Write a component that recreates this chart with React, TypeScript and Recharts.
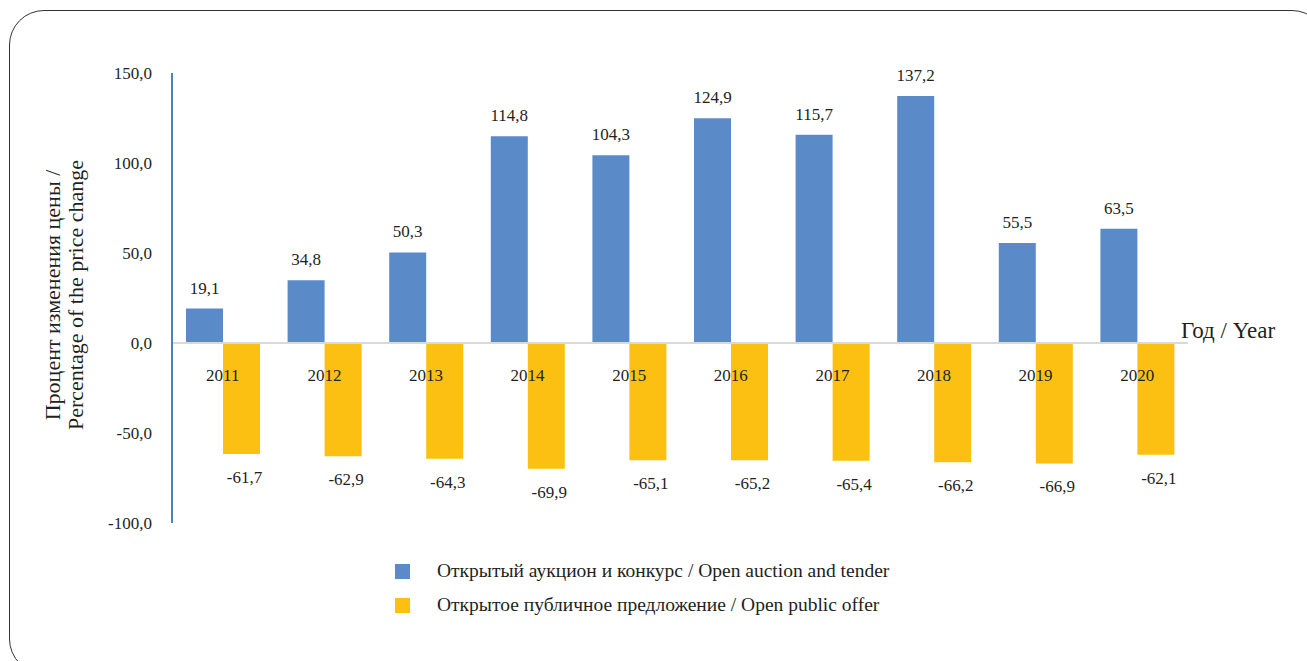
import React from "react";
import { Bar, BarChart, LabelList, Legend, ReferenceLine, XAxis, YAxis } from "recharts";

const years = ["2011", "2012", "2013", "2014", "2015", "2016", "2017", "2018", "2019", "2020"];
const auction = [19.1, 34.8, 50.3, 114.8, 104.3, 124.9, 115.7, 137.2, 55.5, 63.5];
const publicOffer = [-61.7, -62.9, -64.3, -69.9, -65.1, -65.2, -65.4, -66.2, -66.9, -62.1];
const yTicks = [-100, -50, 0, 50, 100, 150];

const seriesKeys = ["auction", "publicOffer"];
const seriesNames: Record<string, string> = {
  auction: "Открытый аукцион и конкурс / Open auction and tender",
  publicOffer: "Открытое публичное предложение / Open public offer",
};

const data = years.map((year, i) => ({ year, auction: auction[i], publicOffer: publicOffer[i] }));

const FONT = "'Liberation Serif', 'DejaVu Serif', serif";
const TEXT = "#231f20";
const BLUE = "#5a8bc8";
const YELLOW = "#fcc012";

const fmt = (v: number) => v.toFixed(1).replace(".", ",");

function YearTick({ x, y, payload }: any) {
  // years sit just under the zero line, not at the bottom of the plot
  return (
    <text x={x} y={y - 144} textAnchor="middle" fontFamily={FONT} fontSize={17} fill={TEXT}>
      {payload.value}
    </text>
  );
}

function AxisTitle({ viewBox }: any) {
  const cy = viewBox.y + viewBox.height / 2 - 3;
  const x1 = viewBox.x + 20;
  const x2 = viewBox.x + 43;
  return (
    <g fontFamily={FONT} fontSize={22} fill={TEXT}>
      <text x={x1} y={cy} transform={`rotate(-90 ${x1} ${cy})`} textAnchor="middle" dominantBaseline="central">
        Процент изменения цены /
      </text>
      <text x={x2} y={cy} transform={`rotate(-90 ${x2} ${cy})`} textAnchor="middle" dominantBaseline="central">
        Percentage of the price change
      </text>
    </g>
  );
}

function LegendBox({ payload }: any) {
  const items = [...payload].sort(
    (a: any, b: any) => seriesKeys.indexOf(a.dataKey) - seriesKeys.indexOf(b.dataKey)
  );
  return (
    <div style={{ fontFamily: FONT, fontSize: 19.5, color: TEXT }}>
      {items.map((p: any) => (
        <div key={p.value} style={{ display: "flex", alignItems: "center", height: 34 }}>
          <span style={{ width: 15, height: 15, background: p.color, marginRight: 27, display: "inline-block" }} />
          <span>{p.value}</span>
        </div>
      ))}
    </div>
  );
}

export default function App() {
  return (
    <div
      style={{
        position: "absolute",
        left: 0,
        top: 0,
        width: 1307,
        height: 661,
        overflow: "hidden",
        background: "#fff",
        fontFamily: FONT,
      }}
    >
      <div
        style={{
          position: "absolute",
          left: 9,
          top: 10,
          width: 1316,
          height: 662,
          border: "1.5px solid #333",
          borderRadius: 35,
        }}
      />
      <BarChart
        width={1307}
        height={661}
        data={data}
        margin={{ top: 73, right: 119, bottom: 108, left: 32 }}
        barSize={37}
        barGap={0}
        style={{ fontFamily: FONT }}
      >
        <YAxis
          width={140}
          domain={[-100, 150]}
          ticks={yTicks}
          tickFormatter={fmt}
          tickLine={false}
          tickSize={0}
          tickMargin={20}
          axisLine={{ stroke: "#4f81bd", strokeWidth: 2 }}
          tick={{ fontSize: 17, fill: TEXT }}
          label={{ content: <AxisTitle /> }}
        />
        <Bar dataKey="auction" name={seriesNames.auction} fill={BLUE} isAnimationActive={false}>
          <LabelList dataKey="auction" position="top" offset={15} formatter={fmt} fontSize={17} fill={TEXT} />
        </Bar>
        <Bar dataKey="publicOffer" name={seriesNames.publicOffer} fill={YELLOW} isAnimationActive={false}>
          <LabelList dataKey="publicOffer" position="top" offset={17} dx={3} formatter={fmt} fontSize={17} fill={TEXT} />
        </Bar>
        <ReferenceLine
          y={0}
          stroke="#d9d9d9"
          strokeWidth={2}
          label={{ value: "Год / Year", position: "right", offset: -7, dy: -13, fontSize: 23, fill: TEXT }}
        />
        <XAxis dataKey="year" height={30} axisLine={false} tickLine={false} tickSize={0} tickMargin={2} tick={<YearTick />} interval={0} />
        <Legend
          layout="vertical"
          align="center"
          verticalAlign="middle"
          content={<LegendBox />}
          wrapperStyle={{ left: 395, top: 554, width: 700, height: 70 }}
        />
      </BarChart>
    </div>
  );
}
